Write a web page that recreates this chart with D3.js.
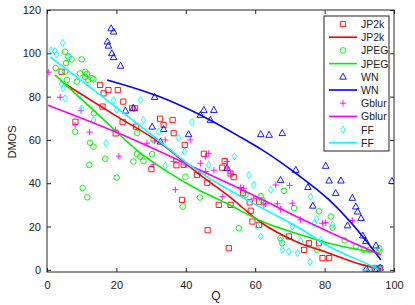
<!DOCTYPE html>
<html lang="en">
<head>
  <meta charset="UTF-8">
  <title>DMOS vs Q</title>
  <script src="https://d3js.org/d3.v7.min.js"></script>
  <style>
    body {
      margin: 0;
      background: #fff;
    }
    svg text {
      font-family: "Liberation Sans", Arial, sans-serif;
      fill: #222;
    }
  </style>
</head>
<body>
  <svg id="chart" width="415" height="305"></svg>

  <script>
    // scatter data [Q, DMOS]
    const jp2kPts = [[4.2,91.5],[8.2,68.4],[15.3,85.4],[16.3,81.5],[17.7,83],[20.4,83],[16,75.4],[22,77.7],[19.8,63],[21.8,68.2],[24.5,74.6],[25.4,74.6],[25.7,66.1],[32.6,69.8],[33.6,66.9],[36.2,69.2],[36.5,63.1],[39.7,57.7],[45.2,53.6],[30.1,46.5],[37.3,48.3],[39.4,48.5],[38.9,32.3],[43.2,43.8],[46.2,40.2],[46.3,18.3],[51.2,50.2],[50.5,47.2],[52.9,44.5],[53.8,42.8],[49.5,30],[52.9,30],[52.4,10],[56.5,35.4],[58.4,31.2],[58.7,27.3],[59.2,22.3],[61.1,20.8],[61.1,31.5],[69.7,15.4],[74.1,9.2],[75.5,12.3],[78.4,12.3],[79.4,5.4],[81.3,5.4],[93,0.5],[94.5,0.5],[96,0.8]];
    const jpegPts = [[2.5,93.2],[5.2,100.7],[6.2,98.4],[7.1,97.2],[10,97.2],[5.5,95.5],[11,91.5],[11.5,90.5],[11,89],[12.9,88.5],[11.9,87.7],[8.6,86.9],[5.7,87.7],[5.2,91.5],[13.4,88],[9.5,90.7],[13.5,72.3],[8.1,63.8],[12.4,58.7],[13.4,56.9],[16.8,51.3],[26,63.2],[12.2,48.5],[20.1,42.6],[10.3,37.8],[11.6,33.5],[25.9,53.5],[26.9,52.3],[24.9,50],[27.8,50.3],[30.3,53.4],[30.7,60],[39.9,43],[44.1,33.4],[39.2,29.2],[55.3,19.2],[57.2,34.6],[61.6,34],[62,32.3],[68.3,36.5],[71.2,28.5],[67.8,12.3],[67.3,14.6],[78.4,27],[81.8,24.6],[82.3,19.5],[85.8,13.6],[89,10.8],[91.4,9.2],[92.9,9.2],[95.8,10],[95.8,8.5],[77.8,9.3]];
    const wnPts = [[18.5,111.5],[19.2,110],[17.4,105.4],[17.7,103.5],[18.7,100],[19.2,98.2],[21.2,94.2],[24.9,74.8],[22.6,73.5],[31,79.8],[30.3,66.1],[33.6,65],[32.7,59.2],[40.8,62.6],[44.2,71.5],[45.2,73.8],[48.1,73.8],[47.1,69.2],[51.9,47],[61.6,62.6],[64,62.3],[67.8,63.1],[67.3,41.5],[71.7,46.1],[75.2,38.2],[76.6,29.6],[80.3,48],[81.3,41.2],[84.7,41.2],[83.2,35.4],[88,33.2],[89,29.2],[89.5,26.9],[90.5,23.9],[86.6,20.5],[91,15.8],[91.9,13.2],[94.8,11.2],[99.4,41],[92,0.5],[95,0.3],[96,1]];
    const gblurPts = [[0.5,91.3],[3.8,79.7],[9.8,73.5],[8.1,66.9],[12.3,63.6],[19.7,64.6],[20.7,52.5],[28.8,58.5],[31,59.5],[30.6,48.5],[37,37],[36.5,50],[39.9,48.5],[34.1,60],[41.3,60],[44.2,49.2],[45.7,52.3],[46.6,53.8],[44.2,44.6],[45.7,45.4],[48.1,46],[51.9,47],[52.9,44.6],[51.9,50],[50.5,33.8],[55.8,38],[56.7,37.7],[59.6,33.1],[62.5,30],[63,30.5],[65.9,39.2],[69.9,39],[66.4,30.5],[67.3,28],[70.7,30.8],[73.1,23.1],[79.4,21.5],[80.3,21.8],[88,22.8],[94,1],[96,0.5]];
    const ffPts = [[1.2,101.3],[2.3,101],[2.8,99.5],[4.5,104.8],[6.4,98.3],[4.2,85.8],[4.7,84],[5.2,79.2],[9.3,80.8],[10,74.6],[13.4,69.2],[19.2,78.4],[20.1,73.8],[26.9,78.4],[27.8,69.2],[32.2,63.8],[17,58.5],[34.1,48.1],[37.9,61],[39.6,54.6],[41.8,68.2],[46.6,48.5],[54,52.4],[58.2,43.8],[59.6,39.2],[64.5,36.9],[61.6,15.4],[60.6,20],[67.3,13.5],[67.8,9.2],[69.7,8.5],[72.2,7.7],[73.1,13.4],[70.7,20],[76,33.8],[77,21.5],[77.7,23.5],[82.3,20.8],[75.8,3.5],[78.9,13.8],[91.5,0.5],[93,0.3],[94.5,0.8],[96,0.3]];

    // fitted curves
    const jp2kFit = [[5.2,85.8],[20,71],[32.7,58.5],[42.8,45.5],[52.4,34],[62,21.5],[71.7,13.1],[81.3,7.7],[91,2.3],[96.2,0.5]];
    const jpegFit = [[2.3,90],[14,72.8],[26.9,54],[35,45],[42.8,37.7],[52,30.5],[62,22.3],[71.7,16.9],[81.3,12.3],[95.8,7.7]];
    const wnFit = [[17.3,87.7],[32.7,79.8],[44.2,71.5],[55,62],[62,55.4],[71.7,44.6],[81.3,32.3],[91,15.4],[96.2,4.6]];
    const gblurFit = [[0.3,76],[20,63.5],[42.8,47],[62,32.5],[72,24.5],[81.3,17.5],[96.2,6.9]];
    const ffFit = [[0.9,98.3],[15.3,80.8],[30,62.5],[42.8,46.5],[62,28.5],[72,20],[81.3,10.8],[92.9,2.3],[95.5,0.3]];

    const xTicks = [0, 20, 40, 60, 80, 100];
    const yTicks = [0, 20, 40, 60, 80, 100, 120];

    const series = [
      { name: "JP2k", color: "#ff0000", shape: "square", pts: jp2kPts, fit: jp2kFit },
      { name: "JPEG", color: "#00ee00", shape: "circle", pts: jpegPts, fit: jpegFit },
      { name: "WN", color: "#0000ff", shape: "triangle", pts: wnPts, fit: wnFit },
      { name: "Gblur", color: "#ff00ff", shape: "plus", pts: gblurPts, fit: gblurFit },
      { name: "FF", color: "#00ffff", shape: "diamond", pts: ffPts, fit: ffFit }
    ];

    const svg = d3.select("#chart");
    const pLeft = 47, pRight = 394, pTop = 10, pBottom = 272;

    const x = d3.scaleLinear().domain([0, 100]).range([pLeft, pRight]);
    const y = d3.scaleLinear().domain([-1, 120]).range([pBottom, pTop]);

    // marker paths
    function markerPath(shape) {
      switch (shape) {
        case "square": return "M-2.6,-2.6H2.6V2.6H-2.6Z";
        case "circle": return "M2.8,0A2.8,2.8 0 1,1 -2.8,0A2.8,2.8 0 1,1 2.8,0Z";
        case "triangle": return "M0,-3.6L3.3,2.4H-3.3Z";
        case "plus": return "M-3.2,0H3.2M0,-3.2V3.2";
        case "diamond": return "M0,-3.6L2.3,0L0,3.6L-2.3,0Z";
      }
    }

    svg.append("defs").append("clipPath").attr("id", "plotclip")
      .append("rect")
      .attr("x", pLeft).attr("y", pTop)
      .attr("width", pRight - pLeft).attr("height", pBottom - pTop);

    const plot = svg.append("g").attr("clip-path", "url(#plotclip)");

    const line = d3.line()
      .x(d => x(d[0]))
      .y(d => y(d[1]))
      .curve(d3.curveMonotoneX);

    series.forEach(s => {
      plot.append("g")
        .selectAll("path")
        .data(s.pts)
        .join("path")
        .attr("transform", d => `translate(${x(d[0])},${y(d[1])})`)
        .attr("d", markerPath(s.shape))
        .attr("fill", "none")
        .attr("stroke", s.color)
        .attr("stroke-width", 0.9);
    });

    series.forEach(s => {
      plot.append("path")
        .datum(s.fit)
        .attr("d", line)
        .attr("fill", "none")
        .attr("stroke", s.color)
        .attr("stroke-width", 1.6);
    });

    // axes (ticks inward, box)
    const axisColor = "#262626";
    svg.append("g")
      .attr("transform", `translate(0,${pBottom})`)
      .call(d3.axisBottom(x).tickValues(xTicks).tickSize(-4).tickPadding(9))
      .call(g => g.select(".domain").remove());
    svg.append("g")
      .attr("transform", `translate(0,${pTop})`)
      .call(d3.axisTop(x).tickValues(xTicks).tickSize(-4).tickFormat(""))
      .call(g => g.select(".domain").remove());
    svg.append("g")
      .attr("transform", `translate(${pLeft},0)`)
      .call(d3.axisLeft(y).tickValues(yTicks).tickSize(-4).tickPadding(6))
      .call(g => g.select(".domain").remove());
    svg.append("g")
      .attr("transform", `translate(${pRight},0)`)
      .call(d3.axisRight(y).tickValues(yTicks).tickSize(-4).tickFormat(""))
      .call(g => g.select(".domain").remove());

    svg.selectAll(".tick line").attr("stroke", axisColor);
    svg.selectAll(".tick text")
      .attr("font-size", 11)
      .attr("font-family", "'Liberation Sans', Arial, sans-serif")
      .attr("fill", "#222");

    svg.append("rect")
      .attr("x", pLeft).attr("y", pTop)
      .attr("width", pRight - pLeft).attr("height", pBottom - pTop)
      .attr("fill", "none")
      .attr("stroke", axisColor)
      .attr("stroke-width", 1);

    // axis labels
    svg.append("text")
      .attr("x", 216).attr("y", 300)
      .attr("text-anchor", "middle")
      .attr("font-size", 12)
      .text("Q");
    svg.append("text")
      .attr("transform", "translate(16,142) rotate(-90)")
      .attr("text-anchor", "middle")
      .attr("font-size", 11)
      .text("DMOS");

    // legend
    const legend = svg.append("g");
    legend.append("rect")
      .attr("x", 324).attr("y", 16)
      .attr("width", 65).attr("height", 135)
      .attr("fill", "#fff")
      .attr("stroke", "#222")
      .attr("stroke-width", 1);

    series.forEach((s, i) => {
      const y1 = 24 + i * 2 * 13.2;
      const y2 = y1 + 13.2;
      legend.append("path")
        .attr("transform", `translate(343,${y1})`)
        .attr("d", markerPath(s.shape))
        .attr("fill", "none")
        .attr("stroke", s.color)
        .attr("stroke-width", 0.9);
      legend.append("text")
        .attr("x", 361).attr("y", y1 + 4)
        .attr("font-size", 10.5)
        .text(s.name);
      legend.append("line")
        .attr("x1", 329).attr("x2", 357)
        .attr("y1", y2).attr("y2", y2)
        .attr("stroke", s.color)
        .attr("stroke-width", 1.6);
      legend.append("text")
        .attr("x", 361).attr("y", y2 + 4)
        .attr("font-size", 10.5)
        .text(s.name);
    });
  </script>
</body>
</html>
